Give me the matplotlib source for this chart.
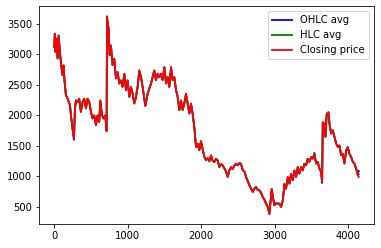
import matplotlib
matplotlib.use("Agg")
import matplotlib.pyplot as plt

# indice de los dias (eje x)
day = [0, 8, 14, 31, 45, 59, 77, 95, 113, 127,
       141, 159, 181, 214, 232, 249, 268, 282, 295, 318,
       340, 363, 386, 409, 432, 454, 477, 500, 522, 545,
       568, 590, 613, 627, 650, 672, 695, 713, 718, 740,
       754, 772, 794, 817, 840, 862, 886, 908, 931, 954,
       977, 999, 1022, 1045, 1067, 1090, 1113, 1135, 1158, 1181,
       1203, 1240, 1271, 1317, 1362, 1385, 1408, 1431, 1454, 1476,
       1499, 1522, 1544, 1567, 1590, 1612, 1635, 1658, 1680, 1703,
       1726, 1748, 1771, 1794, 1816, 1839, 1862, 1884, 1907, 1930,
       1953, 1975, 1998, 2020, 2044, 2067, 2090, 2112, 2135, 2157,
       2180, 2203, 2225, 2248, 2270, 2293, 2316, 2340, 2361, 2384,
       2407, 2430, 2452, 2475, 2497, 2520, 2543, 2566, 2589, 2611,
       2634, 2657, 2680, 2702, 2725, 2748, 2770, 2793, 2816, 2838,
       2861, 2884, 2906, 2929, 2945, 2961, 2980, 2997, 3020, 3042,
       3065, 3088, 3111, 3134, 3156, 3179, 3202, 3224, 3247, 3270,
       3293, 3315, 3338, 3361, 3383, 3406, 3429, 3451, 3474, 3497,
       3520, 3542, 3565, 3588, 3610, 3633, 3647, 3656, 3678, 3692,
       3710, 3733, 3747, 3770, 3792, 3815, 3838, 3860, 3883, 3906,
       3928, 3951, 3974, 3996, 4019, 4042, 4065, 4087, 4110, 4133,
       4146]

# precio de cierre
close_price = [3117, 3336, 3035, 3254, 2927, 3308, 3035, 2818, 2654, 2818,
               2544, 2326, 2272, 2163, 1945, 1781, 1615, 2109, 2245, 2217,
               2272, 2053, 2217, 2272, 2109, 2272, 2217, 2053, 1945, 1999,
               1836, 1999, 1890, 2245, 1999, 1945, 1999, 1740, 3608, 3418,
               2981, 3145, 2818, 2927, 2600, 2708, 2518, 2572, 2462, 2681,
               2408, 2572, 2299, 2462, 2354, 2191, 2299, 2462, 2736, 2626,
               2462, 2150, 2354, 2518, 2736, 2572, 2681, 2626, 2681, 2572,
               2790, 2518, 2626, 2462, 2790, 2572, 2626, 2408, 2299, 2081,
               2245, 2081, 2191, 2354, 2191, 2027, 2191, 2027, 1800, 1481,
               1536, 1426, 1580, 1450, 1317, 1263, 1300, 1263, 1345, 1250,
               1235, 1290, 1263, 1153, 1200, 1181, 1130, 1080, 990, 1100,
               1153, 1120, 1180, 1209, 1181, 1220, 1209, 1099, 1080, 990,
               920, 854, 800, 745, 800, 826, 780, 772, 730, 662,
               620, 554, 499, 390, 600, 799, 640, 526, 560, 554,
               554, 499, 600, 881, 799, 990, 881, 1045, 935, 1099,
               990, 1153, 1045, 1153, 1099, 1209, 1181, 1290, 1235, 1317,
               1290, 1360, 1209, 1235, 1126, 1072, 920, 1890, 1863, 1645,
               2027, 2053, 1863, 1700, 1754, 1645, 1536, 1481, 1508, 1345,
               1372, 1209, 1426, 1481, 1372, 1317, 1235, 1209, 1126, 1017,
               990]

# promedio HLC
hlc_avg = [3117, 3330, 3040, 3250, 2930, 3300, 3040, 2820, 2658, 2815,
           2548, 2330, 2275, 2165, 1950, 1785, 1625, 2105, 2242, 2215,
           2270, 2058, 2215, 2270, 2112, 2270, 2215, 2056, 1950, 1996,
           1840, 1996, 1893, 2240, 2000, 1948, 1996, 1745, 3620, 3415,
           2985, 3140, 2822, 2925, 2605, 2705, 2520, 2570, 2466, 2678,
           2412, 2570, 2302, 2460, 2356, 2195, 2300, 2460, 2730, 2622,
           2465, 2155, 2352, 2516, 2730, 2575, 2678, 2624, 2678, 2575,
           2785, 2520, 2624, 2465, 2785, 2575, 2624, 2412, 2302, 2086,
           2242, 2086, 2193, 2350, 2193, 2030, 2190, 2030, 1805, 1485,
           1534, 1430, 1576, 1452, 1320, 1266, 1298, 1240, 1342, 1252,
           1238, 1288, 1262, 1156, 1198, 1182, 1132, 1082, 994, 1098,
           1152, 1122, 1178, 1207, 1182, 1218, 1207, 1102, 1082, 994,
           924, 857, 803, 748, 800, 824, 782, 772, 733, 666,
           622, 557, 503, 398, 596, 792, 640, 530, 560, 555,
           555, 503, 602, 876, 800, 985, 883, 1040, 938, 1095,
           993, 1150, 1047, 1150, 1100, 1205, 1182, 1285, 1237, 1315,
           1291, 1365, 1212, 1234, 1128, 1075, 912, 1880, 1858, 1650,
           2020, 2045, 1865, 1704, 1752, 1648, 1540, 1484, 1505, 1348,
           1370, 1212, 1420, 1478, 1374, 1320, 1238, 1210, 1128, 1022,
           1035]

# promedio OHLC
ohlc_avg = [3115, 3328, 3042, 3248, 2932, 3298, 3042, 2822, 2660, 2812,
            2550, 2332, 2276, 2166, 1952, 1787, 1598, 2102, 2240, 2214,
            2268, 2060, 2214, 2268, 2114, 2268, 2214, 2058, 1952, 1994,
            1842, 1994, 1895, 2238, 2002, 1950, 1994, 1748, 3590, 3410,
            2988, 3138, 2824, 2924, 2608, 2704, 2522, 2568, 2468, 2676,
            2414, 2568, 2304, 2458, 2358, 2197, 2302, 2458, 2728, 2620,
            2467, 2158, 2350, 2514, 2728, 2577, 2676, 2622, 2676, 2577,
            2782, 2522, 2622, 2467, 2782, 2577, 2622, 2414, 2304, 2088,
            2240, 2088, 2195, 2348, 2195, 2032, 2188, 2032, 1808, 1487,
            1533, 1432, 1574, 1454, 1322, 1268, 1297, 1258, 1340, 1253,
            1240, 1287, 1261, 1158, 1197, 1183, 1133, 1084, 996, 1097,
            1151, 1123, 1177, 1206, 1183, 1217, 1206, 1104, 1084, 996,
            926, 859, 805, 750, 799, 823, 783, 772, 735, 668,
            623, 559, 505, 384, 594, 788, 641, 532, 561, 556,
            556, 505, 603, 873, 801, 982, 884, 1038, 940, 1093,
            994, 1148, 1048, 1148, 1101, 1203, 1183, 1283, 1238, 1314,
            1292, 1385, 1214, 1233, 1130, 1077, 895, 1875, 1855, 1655,
            2015, 2040, 1866, 1706, 1751, 1650, 1542, 1486, 1503, 1350,
            1368, 1214, 1415, 1476, 1375, 1322, 1240, 1211, 1130, 1040,
            1088]

fig = plt.figure(figsize=(381 / 72, 248 / 72), dpi=72)
ax = fig.add_axes([0.1024, 0.0968, 0.8792, 0.8778])

ax.plot(day, ohlc_avg, color="blue", linewidth=1.8, label="OHLC avg")
ax.plot(day, hlc_avg, color="green", linewidth=1.8, label="HLC avg")
ax.plot(day, close_price, color="red", linewidth=1.8, label="Closing price")

ax.set_xticks([0, 1000, 2000, 3000, 4000])
ax.set_yticks([500, 1000, 1500, 2000, 2500, 3000, 3500])
ax.legend(loc="upper right")

fig.savefig("out.png", dpi=72)
